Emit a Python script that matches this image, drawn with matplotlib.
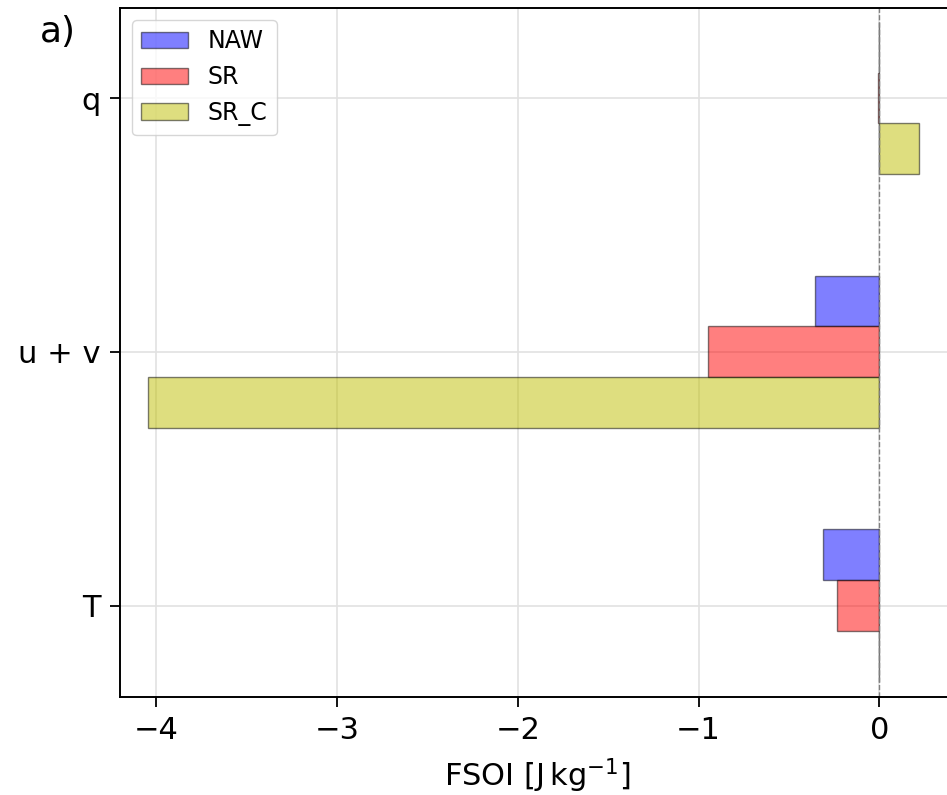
import numpy as np
import matplotlib.pyplot as plt

variables = ['T', 'u + v', 'q']
naw = [-0.31, -0.355, 0.0]
sr = [-0.235, -0.945, -0.006]
sr_c = [0.0, -4.045, 0.222]

plt.rcParams['font.size'] = 22
plt.rcParams['axes.linewidth'] = 1.4
plt.rcParams['xtick.major.size'] = 7
plt.rcParams['ytick.major.size'] = 7
plt.rcParams['xtick.major.width'] = 1.3
plt.rcParams['ytick.major.width'] = 1.3
plt.rcParams['xtick.major.pad'] = 7
plt.rcParams['ytick.major.pad'] = 7

y = np.arange(len(variables))
h = 0.2

fig = plt.figure(figsize=(9.47, 7.95), dpi=100)
ax = fig.add_axes([0.1267, 0.1233, 0.882, 0.8666])

ax.barh(y + h, naw, height=h, color='b', alpha=0.5, edgecolor='k', label='NAW')
ax.barh(y, sr, height=h, color='r', alpha=0.5, edgecolor='k', label='SR')
ax.barh(y - h, sr_c, height=h, color='y', alpha=0.5, edgecolor='k', label='SR_C')
ax.axvline(0, color='grey', ls='--', lw=1)

ax.set_yticks(y)
ax.set_yticklabels(variables)
ax.set_xticks([-4, -3, -2, -1, 0])
ax.set_xticklabels(['\u22124', '\u22123', '\u22122', '\u22121', '0'])
ax.set_xlim(-4.2, 0.42)
ax.set_ylim(-0.36, 2.355)
ax.grid(True, color='#e2e2e2', lw=1.2)
ax.set_axisbelow(True)
ax.set_xlabel(r'FSOI [J$\,$kg$^{-1}$]', labelpad=8)
ax.legend(loc='upper left', fontsize=17, borderaxespad=0.5)

fig.text(0.042, 0.947, 'a)', fontsize=26)
fig.savefig('out.png', dpi=100)
